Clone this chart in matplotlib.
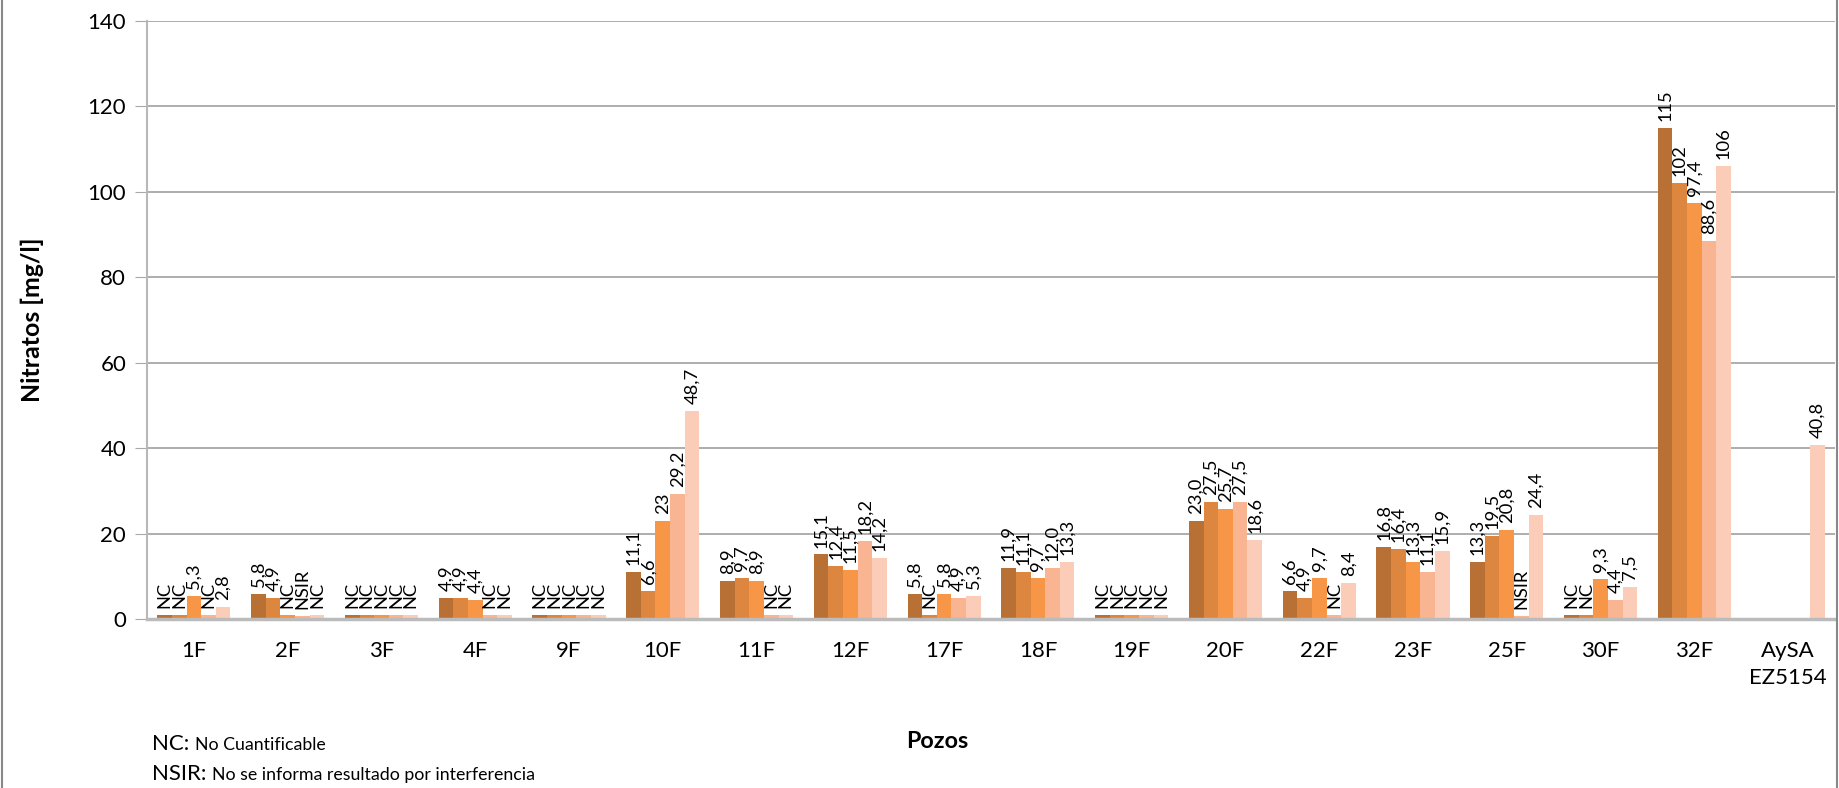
import matplotlib
matplotlib.use("Agg")
import matplotlib.pyplot as plt
from matplotlib.lines import Line2D
import numpy as np

plt.rcParams['font.family'] = ['Lato', 'DejaVu Sans']

# pozos (categorias del eje x)
pozos = ["1F", "2F", "3F", "4F", "9F", "10F", "11F", "12F", "17F", "18F",
         "19F", "20F", "22F", "23F", "25F", "30F", "32F", "AySA\nEZ5154"]

# etiquetas de cada serie (NC / NSIR se dibujan como barra minima)
s1 = ["NC", "5,8", "NC", "4,9", "NC", "11,1", "8,9", "15,1", "5,8", "11,9",
      "NC", "23,0", "6,6", "16,8", "13,3", "NC", "115", ""]
s2 = ["NC", "4,9", "NC", "4,9", "NC", "6,6", "9,7", "12,4", "NC", "11,1",
      "NC", "27,5", "4,9", "16,4", "19,5", "NC", "102", ""]
s3 = ["5,3", "NC", "NC", "4,4", "NC", "23", "8,9", "11,5", "5,8", "9,7",
      "NC", "25,7", "9,7", "13,3", "20,8", "9,3", "97,4", ""]
s4 = ["NC", "NSIR", "NC", "NC", "NC", "29,2", "NC", "18,2", "4,9", "12,0",
      "NC", "27,5", "NC", "11,1", "NSIR", "4,4", "88,6", ""]
s5 = ["2,8", "NC", "NC", "NC", "NC", "48,7", "NC", "14,2", "5,3", "13,3",
      "NC", "18,6", "8,4", "15,9", "24,4", "7,5", "106", "40,8"]
series = [s1, s2, s3, s4, s5]

# altura con la que se dibujan los resultados no numericos
placeholder = {"NC": 1.0, "NSIR": 0.6, "": 0.0}

colors = ["#B97034", "#DC8640", "#F79646", "#F9B592", "#FBCDB8"]


def to_value(s):
    if s in placeholder:
        return placeholder[s]
    return float(s.replace(",", "."))


fig = plt.figure(figsize=(18.4, 7.88), dpi=100)
renderer = fig.canvas.get_renderer()


def fit_size(text, px, weight="normal"):
    # tamano de letra para que el texto mida px pixeles de largo
    t = fig.text(0, 0, text, fontsize=10, fontweight=weight)
    wpx = t.get_window_extent(renderer).width
    t.remove()
    return 10 * px / wpx


lab_fs = fit_size("48,7", 36)
tick_fs = fit_size("EZ5154", 78)
ylab_fs = fit_size("Nitratos [mg/l]", 164, "bold")
xlab_fs = fit_size("Pozos", 62, "bold")

ax = fig.add_axes([0.0799, 0.2145, 0.9174, 0.7589])

x = np.arange(len(pozos))
w = 0.156
for i, (labels, c) in enumerate(zip(series, colors)):
    vals = [to_value(s) for s in labels]
    pos = x + (i - 2) * w
    ax.bar(pos, vals, width=w, color=c, zorder=2)
    for px, v, s in zip(pos, vals, labels):
        if s == "":
            continue
        ax.annotate(s, (px, v), xytext=(0, 5), textcoords="offset points",
                    rotation=90, ha="center", va="bottom", fontsize=lab_fs)

ax.set_xlim(-0.5, len(pozos) - 0.5)
ax.set_ylim(0, 140)
ax.set_yticks(np.arange(0, 141, 20))
ax.set_xticks(x)
ax.set_xticklabels(pozos, fontsize=tick_fs, linespacing=1.4)
ax.tick_params(axis="y", labelsize=tick_fs, length=9, color="#A8A8A8", pad=6)
ax.tick_params(axis="x", length=0, pad=16)
ax.grid(axis="y", color="#A0A0A0", linewidth=1.2, zorder=0)
for sp in ["top", "right"]:
    ax.spines[sp].set_visible(False)
ax.spines["left"].set_color("#B8B8B8")
ax.spines["left"].set_linewidth(1.5)
ax.spines["bottom"].set_color("#BBBBBB")
ax.spines["bottom"].set_linewidth(2.5)

ax.set_ylabel("Nitratos [mg/l]", fontsize=ylab_fs, fontweight="bold")
ax.yaxis.set_label_coords(-0.061, 0.5)

fig.text(906 / 1840, 1 - 742 / 788, "Pozos", fontsize=xlab_fs, fontweight="bold",
         ha="left", va="center")

# notas al pie: abreviatura grande + descripcion pequena
for yy, abbr, desc in [(750, "NC:", "No Cuantificable"),
                       (780, "NSIR:", "No se informa resultado por interferencia")]:
    t = fig.text(152 / 1840, 1 - yy / 788, abbr, fontsize=tick_fs, va="baseline")
    bb = t.get_window_extent(renderer)
    fig.text((bb.x1 + 6) / 1840, 1 - yy / 788, desc, fontsize=tick_fs * 0.8,
             va="baseline")

# borde del area del grafico
fig.add_artist(Line2D([2 / 1840, 2 / 1840], [0, 1], color="#888888", lw=1.5,
                      transform=fig.transFigure))
fig.add_artist(Line2D([1837 / 1840, 1837 / 1840], [0, 1], color="#888888", lw=1.5,
                      transform=fig.transFigure))

fig.savefig("out.png", dpi=100)
